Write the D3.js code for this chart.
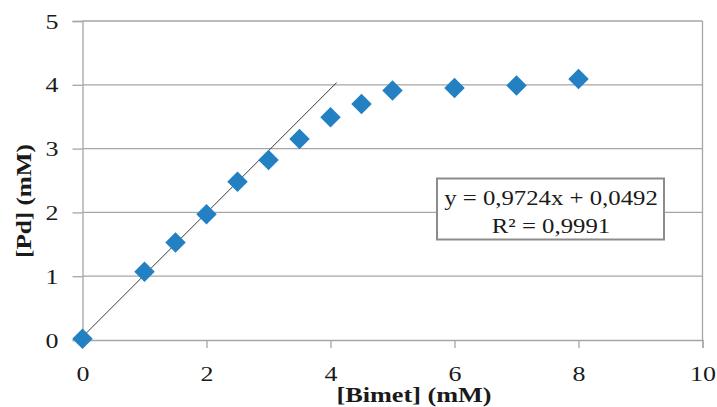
<!DOCTYPE html>
<html>
<head>
<meta charset="utf-8">
<script src="https://cdn.jsdelivr.net/npm/d3@7"></script>
<style>
  body { margin: 0; background: #fff; }
  text { font-family: "Liberation Serif", "Times New Roman", serif; fill: #1a1a1a; }
</style>
</head>
<body>
<div id="chart"></div>
<script>
// measured points, [Bimet] vs [Pd]
var bimet = [0, 1, 1.5, 2, 2.5, 3, 3.5, 4, 4.5, 5, 6, 7, 8];
var pd = [0.02, 1.07, 1.53, 1.97, 2.48, 2.82, 3.15, 3.49, 3.70, 3.91, 3.95, 3.99, 4.09];

// linear fit shown in the chart
var slope = 0.9724, intercept = 0.0492;
var fitRange = [0, 4.1];
var eqLines = ["y = 0,9724x + 0,0492", "R\u00b2 = 0,9991"];

var xTicks = [0, 2, 4, 6, 8, 10];
var yTicks = [0, 1, 2, 3, 4, 5];

var W = 717, H = 407;
// the original text is drawn a bit wider than plain Times
var stretch = 1.18;

var svg = d3.select("#chart").append("svg")
    .attr("width", W)
    .attr("height", H);

var x = d3.scaleLinear().domain([0, 10]).range([82.5, 702.5]);
var y = d3.scaleLinear().domain([0, 5]).range([340, 21]);

var gridColor = "#a6a6a6";

// horizontal grid
svg.append("g")
  .selectAll("line")
  .data(yTicks.slice(1))
  .enter().append("line")
    .attr("x1", x(0)).attr("x2", x(10))
    .attr("y1", function(d) { return y(d); })
    .attr("y2", function(d) { return y(d); })
    .attr("stroke", gridColor)
    .attr("stroke-width", 1.3);

// right border
svg.append("line")
  .attr("x1", x(10)).attr("x2", x(10))
  .attr("y1", y(5)).attr("y2", y(0))
  .attr("stroke", gridColor).attr("stroke-width", 1.3);

// Y axis
var yAxis = svg.append("g")
  .attr("transform", "translate(" + x(0) + ",0)")
  .call(d3.axisLeft(y).tickValues(yTicks).tickSize(10).tickPadding(14).tickFormat(d3.format("d")));

// X axis
var xAxis = svg.append("g")
  .attr("transform", "translate(0," + y(0) + ")")
  .call(d3.axisBottom(x).tickValues(xTicks).tickSize(8).tickPadding(17).tickFormat(d3.format("d")));

[xAxis, yAxis].forEach(function(a) {
  a.select(".domain").attr("stroke", gridColor).attr("stroke-width", 1.3);
  a.selectAll(".tick line").attr("stroke", gridColor).attr("stroke-width", 1.3);
  a.selectAll(".tick text")
    .style("font-family", "'Liberation Serif', serif")
    .attr("font-size", 22)
    .attr("fill", "#1a1a1a");
});
xAxis.selectAll(".tick text").attr("transform", "scale(" + stretch + ",1)");
yAxis.selectAll(".tick text")
  .attr("x", -24 / stretch)
  .attr("transform", "scale(" + stretch + ",1)");

// trendline
svg.append("line")
  .attr("x1", x(fitRange[0])).attr("y1", y(slope * fitRange[0] + intercept))
  .attr("x2", x(fitRange[1])).attr("y2", y(slope * fitRange[1] + intercept))
  .attr("stroke", "#3a3a3a")
  .attr("stroke-width", 1);

// diamonds
var pts = bimet.map(function(d, i) { return {x: d, y: pd[i]}; });
svg.append("g")
  .selectAll("path")
  .data(pts)
  .enter().append("path")
    .attr("d", d3.symbol().type(d3.symbolSquare).size(210))
    .attr("transform", function(d) {
      return "translate(" + x(d.x) + "," + y(d.y) + ") rotate(45)";
    })
    .attr("fill", "#2381c3");

// equation box
var box = svg.append("g");
box.append("rect")
  .attr("x", 437).attr("y", 178.5)
  .attr("width", 227).attr("height", 61)
  .attr("fill", "#fff")
  .attr("stroke", "#8c8c8c")
  .attr("stroke-width", 2);
box.selectAll("text")
  .data(eqLines)
  .enter().append("text")
    .attr("transform", function(d, i) {
      return "translate(551," + (205 + i * 28) + ") scale(" + stretch + ",1)";
    })
    .attr("text-anchor", "middle")
    .attr("font-size", 21)
    .text(function(d) { return d; });

// axis titles
svg.append("text")
  .attr("transform", "translate(414,402) scale(1.25,1)")
  .attr("text-anchor", "middle")
  .attr("font-size", 21)
  .attr("font-weight", "bold")
  .text("[Bimet] (mM)");

svg.append("text")
  .attr("transform", "translate(31,201) rotate(-90) scale(1.2,1)")
  .attr("text-anchor", "middle")
  .attr("font-size", 21)
  .attr("font-weight", "bold")
  .text("[Pd] (mM)");
</script>
</body>
</html>
